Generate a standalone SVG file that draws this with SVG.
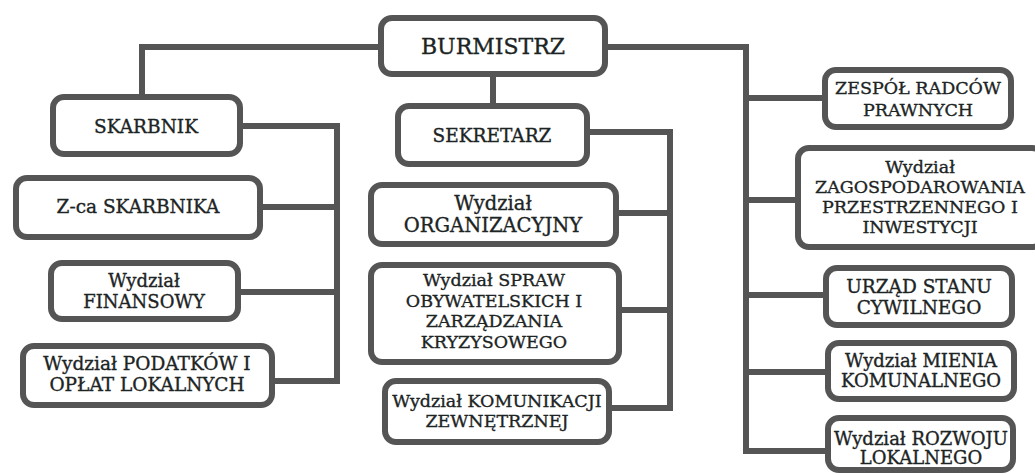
<svg xmlns="http://www.w3.org/2000/svg" width="1035" height="475" viewBox="0 0 1035 475">
<style>
.box{fill:#ffffff;stroke:#555555;stroke-width:6}
.ln{fill:none;stroke:#555555;stroke-width:6;stroke-linejoin:miter}
text{font-family:"DejaVu Serif","Liberation Serif",serif;fill:#1c2424;stroke:#1c2424;stroke-width:0.35;text-anchor:middle}
.s18{font-size:18px}
.s175{font-size:17.5px}
</style>
<rect width="1035" height="475" fill="#ffffff"/>
<g id="connectors">
<path class="ln" d="M381,47 H142 V97"/>
<path class="ln" d="M493,74 V106"/>
<path class="ln" d="M605,47 H746 V451 H828"/>
<path class="ln" d="M746,98 H825 M746,200 H798 M746,295 H826 M746,372 H828"/>
<path class="ln" d="M240,126 H337 V384"/>
<path class="ln" d="M260,207 H337 M238,292 H337 M272,381 H337"/>
<path class="ln" d="M587,132 H670 V411"/>
<path class="ln" d="M616,213 H670 M619,310 H670 M609,408 H670"/>
</g>
<g id="burmistrz"><rect class="box" x="381" y="18" width="224" height="56" rx="11"/><text x="493" y="54" font-size="22">BURMISTRZ</text></g>
<g id="skarbnik"><rect class="box" x="53" y="97" width="187" height="57" rx="11"/><text x="146" y="133" font-size="18.5">SKARBNIK</text></g>
<g id="zca-skarbnika"><rect class="box" x="16" y="178" width="244" height="59" rx="11"/><text x="138" y="213" font-size="18.5">Z-ca SKARBNIKA</text></g>
<g id="finansowy"><rect class="box" x="51" y="263" width="187" height="56" rx="11"/><text class="s18" x="144" y="287">Wydział</text><text class="s18" x="144" y="308">FINANSOWY</text></g>
<g id="podatkow"><rect class="box" x="23" y="346" width="249" height="59" rx="11"/><text x="147" y="370" font-size="18.5">Wydział PODATKÓW I</text><text x="147" y="391" font-size="18.5">OPŁAT LOKALNYCH</text></g>
<g id="sekretarz"><rect class="box" x="398" y="106" width="189" height="58" rx="11"/><text x="492" y="142" font-size="18.5">SEKRETARZ</text></g>
<g id="organizacyjny"><rect class="box" x="371" y="185" width="245" height="59" rx="11"/><text x="493" y="210" font-size="19.5">Wydział</text><text x="493" y="232" font-size="19.5">ORGANIZACYJNY</text></g>
<g id="spraw"><rect class="box" x="371" y="265" width="248" height="97" rx="11"/><text class="s175" x="494" y="286">Wydział SPRAW</text><text class="s175" x="494" y="307">OBYWATELSKICH I</text><text class="s175" x="494" y="327">ZARZĄDZANIA</text><text class="s175" x="494" y="348">KRYZYSOWEGO</text></g>
<g id="komunikacji"><rect class="box" x="385" y="381" width="224" height="61" rx="11"/><text class="s175" x="497" y="407">Wydział KOMUNIKACJI</text><text class="s175" x="497" y="427">ZEWNĘTRZNEJ</text></g>
<g id="zespol"><rect class="box" x="825" y="70" width="186" height="57" rx="11"/><text class="s175" x="918" y="94">ZESPÓŁ RADCÓW</text><text class="s175" x="918" y="116">PRAWNYCH</text></g>
<g id="zagospodarowania"><rect class="box" x="798" y="148" width="245" height="99" rx="11"/><text class="s175" x="920" y="173">Wydział</text><text class="s175" x="920" y="193">ZAGOSPODAROWANIA</text><text class="s175" x="920" y="213">PRZESTRZENNEGO I</text><text class="s175" x="920" y="233">INWESTYCJI</text></g>
<g id="usc"><rect class="box" x="826" y="268" width="186" height="57" rx="11"/><text x="919" y="293" font-size="18.5">URZĄD STANU</text><text x="919" y="314" font-size="18.5">CYWILNEGO</text></g>
<g id="mienia"><rect class="box" x="828" y="343" width="186" height="56" rx="11"/><text class="s18" x="921" y="367">Wydział MIENIA</text><text class="s18" x="921" y="387">KOMUNALNEGO</text></g>
<g id="rozwoju"><rect class="box" x="828" y="418" width="185" height="52" rx="11"/><text class="s18" x="921" y="445">Wydział ROZWOJU</text><text class="s18" x="921" y="464">LOKALNEGO</text></g>
</svg>
